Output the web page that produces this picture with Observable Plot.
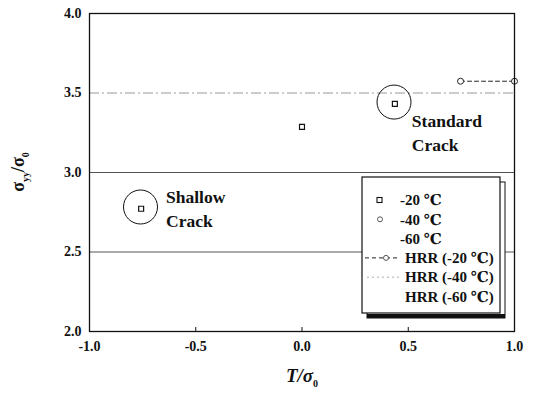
<!DOCTYPE html>
<html>
<head>
<meta charset="utf-8">
<script src="https://cdn.jsdelivr.net/npm/d3@7"></script>
<script src="https://cdn.jsdelivr.net/npm/@observablehq/plot@0.6"></script>
<style>
  html, body { margin: 0; padding: 0; background: #fff; }
  #wrap { position: relative; width: 534px; height: 395px; }
  #wrap svg text { font-family: "Liberation Serif", "DejaVu Serif", serif; font-weight: 700; }
</style>
</head>
<body>
<div id="wrap"></div>
<script>
// ---- data ----
const sq20T = [-0.757, 0.0, 0.437];
const sq20S = [2.772, 3.287, 3.432];
const c40T = [0.746, 1.0];
const c40S = [3.574, 3.574];
const hrr20T = [0.746, 1.0];
const hrr20S = [3.574, 3.574];
const gridSolid = [2.5, 3.0];
const hrr40S = [3.5];
const highlightT = [-0.76, 0.433];
const highlightS = [2.783, 3.443];
const noteLabels = ["Shallow\nCrack", "Standard\nCrack"];
const noteT = [-0.64, 0.517];
const noteS = [2.78, 3.26];
const xTicks = [-1.0, -0.5, 0.0, 0.5, 1.0];
const yTicks = [2.0, 2.5, 3.0, 3.5, 4.0];
const innerTicks = [-0.5, 0.0, 0.5];
const legendLabels = ["-20 \u2103", "-40 \u2103", "-60 \u2103", "HRR (-20 \u2103)", "HRR (-40 \u2103)", "HRR (-60 \u2103)"];
const legendKinds = ["square", "circle", "none", "dash", "dot", "none2"];

const zip = (a, b) => a.map((v, i) => ({x: v, y: b[i]}));
const font = "Liberation Serif, DejaVu Serif, serif";
const fmt = d => d.toFixed(1);

const plot = Plot.plot({
  width: 534,
  height: 395,
  marginLeft: 89,
  marginRight: 20,
  marginTop: 13,
  marginBottom: 64,
  style: {fontFamily: font, fontWeight: "bold", fontSize: "14px", background: "#fff"},
  x: {domain: [-1, 1]},
  y: {domain: [2, 4]},
  marks: [
    Plot.ruleY(gridSolid, {stroke: "#555", strokeWidth: 1}),
    Plot.ruleY(hrr40S, {stroke: "#999", strokeWidth: 1, strokeDasharray: "10,3,2,3"}),
    Plot.line(zip(hrr20T, hrr20S), {x: "x", y: "y", stroke: "#222", strokeDasharray: "4,3", strokeWidth: 1}),
    Plot.dot(zip(c40T, c40S), {x: "x", y: "y", r: 3, stroke: "#222", strokeWidth: 1, fill: "#fff"}),
    Plot.dot(zip(sq20T, sq20S), {x: "x", y: "y", symbol: "square", r: 2.8, stroke: "#111", strokeWidth: 1.2, fill: "#fff"}),
    Plot.dot(zip(highlightT, highlightS), {x: "x", y: "y", r: 17, stroke: "#111", strokeWidth: 1, fill: "none"}),
    Plot.text(noteLabels.map((t, i) => ({t, x: noteT[i], y: noteS[i]})), {
      x: "x", y: "y", text: "t", textAnchor: "start", lineHeight: 1.35,
      fontSize: 17.5, fontWeight: "bold", fill: "#111"
    }),
    Plot.ruleX(innerTicks, {y1: 2, y2: 2.025, stroke: "#111"}),
    Plot.axisX(xTicks, {tickSize: 0, tickPadding: 10, tickFormat: fmt, label: null, fontSize: 14, fontWeight: "bold", fill: "#111"}),
    Plot.axisY(yTicks, {tickSize: 0, tickPadding: 8, tickFormat: fmt, label: null, fontSize: 14, fontWeight: "bold", fill: "#111"}),
    Plot.frame({stroke: "#111", strokeWidth: 1.3})
  ]
});

const wrap = document.getElementById("wrap");
wrap.appendChild(plot);

const svg = d3.select(plot);
// axis titles
svg.append("text")
  .attr("transform", "translate(24,172) rotate(-90)")
  .attr("text-anchor", "middle")
  .attr("font-size", 18).attr("fill", "#111")
  .call(t => {
    t.append("tspan").text("\u03c3");
    t.append("tspan").text("yy").attr("font-size", 10).attr("dy", 5);
    t.append("tspan").text("/\u03c3").attr("dy", -5);
    t.append("tspan").text("0").attr("font-size", 10).attr("dy", 5);
  });
svg.append("text")
  .attr("x", 302).attr("y", 382)
  .attr("text-anchor", "middle")
  .attr("font-style", "italic").attr("font-size", 19).attr("fill", "#111")
  .call(t => {
    t.append("tspan").text("T/\u03c3");
    t.append("tspan").text("0").attr("font-size", 10).attr("dy", 5).attr("font-style", "normal");
  });

// legend (overlay inside plot area)
const lg = svg.append("g").attr("font-size", 15).attr("fill", "#111").attr("text-anchor", "start");
const bx = 362, by = 177, bw = 138, bh = 136;
lg.append("rect").attr("x", bx + 5).attr("y", by + 5).attr("width", bw).attr("height", bh).attr("fill", "#fff").attr("stroke", "#111").attr("stroke-width", 1);
lg.append("rect").attr("x", bx + 5).attr("y", by + bh + 1).attr("width", bw).attr("height", 4).attr("fill", "#111");
lg.append("rect").attr("x", bx).attr("y", by).attr("width", bw).attr("height", bh).attr("fill", "#fff").attr("stroke", "#111").attr("stroke-width", 1.2);
legendLabels.forEach((lab, i) => {
  const cy = by + 23 + i * 19.3;
  const k = legendKinds[i];
  if (k === "square") lg.append("rect").attr("x", 377).attr("y", cy - 2.5).attr("width", 5).attr("height", 5).attr("fill", "#fff").attr("stroke", "#111").attr("stroke-width", 1.1);
  if (k === "circle") lg.append("circle").attr("cx", 380).attr("cy", cy).attr("r", 2.5).attr("fill", "#fff").attr("stroke", "#555");
  if (k === "dash") {
    lg.append("line").attr("x1", 365).attr("x2", 399).attr("y1", cy).attr("y2", cy).attr("stroke", "#222").attr("stroke-dasharray", "4,3");
    lg.append("circle").attr("cx", 386).attr("cy", cy).attr("r", 2.5).attr("fill", "#fff").attr("stroke", "#555");
  }
  if (k === "dot") lg.append("line").attr("x1", 367).attr("x2", 399).attr("y1", cy).attr("y2", cy).attr("stroke", "#aaa").attr("stroke-dasharray", "2,3");
  lg.append("text").attr("x", i < 3 ? 400 : 405).attr("y", cy).attr("dy", "0.35em").text(lab);
});
</script>
</body>
</html>
